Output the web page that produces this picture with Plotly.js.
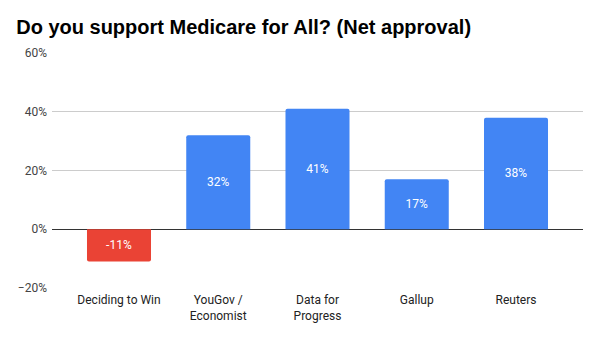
<!DOCTYPE html>
<html>
<head>
<meta charset="utf-8">
<script src="https://cdn.plot.ly/plotly-3.0.1.min.js"></script>
<style>html,body{margin:0;padding:0;background:#fff;}#chart{width:600px;height:355px;}</style>
</head>
<body>
<div id="chart"></div>
<script>
const categories = ["Deciding to Win", "YouGov /<br>Economist", "Data for<br>Progress", "Gallup", "Reuters"];
const netApproval = [-0.11, 0.32, 0.41, 0.17, 0.38];
const labels = ["-11%", "32%", "41%", "17%", "38%"];
const colors = netApproval.map(v => v < 0 ? "#ea4335" : "#4285f4");

const trace = {
  type: "bar",
  x: categories,
  y: netApproval,
  text: labels,
  textposition: "inside",
  insidetextanchor: "middle",
  textangle: 0,
  textfont: {family: "Roboto, sans-serif", size: 12, color: "#ffffff"},
  marker: {color: colors, cornerradius: 2},
  width: 0.645,
  hoverinfo: "none"
};

const layout = {
  width: 600, height: 355,
  margin: {l: 52, r: 17, t: 53, b: 67},
  paper_bgcolor: "#fff", plot_bgcolor: "#fff",
  font: {family: "Roboto, sans-serif", size: 12, color: "#222"},
  title: {text: "<b>Do you support Medicare for All? (Net approval)</b>", x: 0.027, xanchor: "left", y: 0.925, yanchor: "middle",
          font: {family: "Liberation Sans, Arial, sans-serif", size: 20, color: "#000"}},
  showlegend: false,
  xaxis: {type: "category", range: [-0.675, 4.675], showgrid: false, showline: false, ticks: "",
          tickfont: {family: "Roboto, sans-serif", size: 12, color: "#222"}, ticklabelstandoff: 3, fixedrange: true},
  yaxis: {range: [-0.2, 0.6], tickvals: [-0.2, 0, 0.2, 0.4, 0.6], tickformat: ".0%",
          gridcolor: "#cccccc", gridwidth: 1, zeroline: true, zerolinecolor: "#333333", zerolinewidth: 1,
          showline: false, ticks: "", tickfont: {family: "Roboto, sans-serif", size: 12, color: "#444"}, ticklabelstandoff: 4, fixedrange: true}
};

Plotly.newPlot("chart", [trace], layout, {displayModeBar: false, staticPlot: true});
</script>
</body>
</html>
